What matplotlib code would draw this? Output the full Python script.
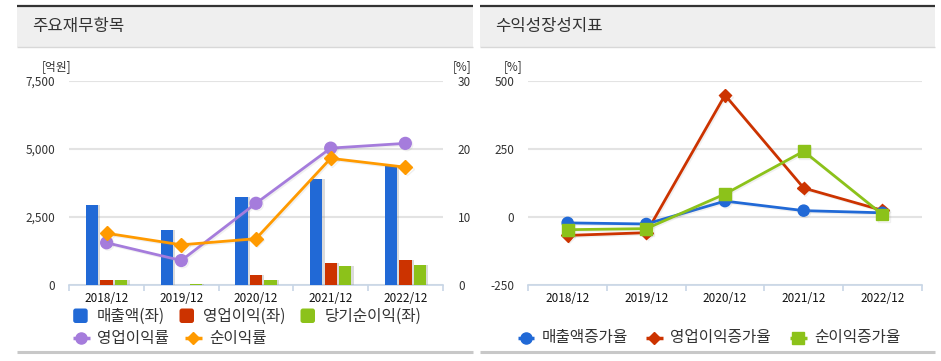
import matplotlib
matplotlib.use("Agg")
import matplotlib.pyplot as plt
import matplotlib.patheffects as pe
from matplotlib.patches import Rectangle, FancyBboxPatch
import numpy as np

plt.rcParams['font.family'] = ['Noto Sans CJK KR', 'DejaVu Sans']
plt.rcParams['axes.unicode_minus'] = False

# ---------------- data ----------------
years = ['2018/12', '2019/12', '2020/12', '2021/12', '2022/12']
sales = [2930, 2030, 3240, 3880, 4370]          # 매출액 (억원)
op_income = [185, 12, 380, 790, 920]            # 영업이익
net_income = [185, 45, 185, 680, 725]           # 당기순이익
op_margin = [6.2, 3.6, 12.0, 20.1, 20.8]        # 영업이익률 (%)
net_margin = [7.6, 5.9, 6.8, 18.6, 17.3]        # 순이익률 (%)

sales_growth = [-22, -26, 58, 23, 15]           # 매출액증가율 (%)
op_growth = [-68, -58, 447, 106, 24]            # 영업이익증가율
net_growth = [-47, -43, 84, 241, 9]             # 순이익증가율

left_title = '주요재무항목'
right_title = '수익성장성지표'
left_yticks = [0, 2500, 5000, 7500]
left_y2ticks = [0, 10, 20, 30]
right_yticks = [-250, 0, 250, 500]

# ---------------- colors ----------------
C_BLUE = '#2169d6'
C_RED = '#cc3300'
C_GREEN = '#8cc21a'
C_PURPLE = '#a57cdc'
C_ORANGE = '#ff9a00'
C_GRID = '#e3e3e3'
C_AXIS = '#c8d6e6'
C_TXT = '#333333'

W, H = 941, 361
fig = plt.figure(figsize=(W / 100, H / 100), dpi=100)


def rect(x0, y0, x1, y1):
    return [x0 / W, 1 - y1 / H, (x1 - x0) / W, (y1 - y0) / H]


# overlay in pixel coordinates for panel decorations
ov = fig.add_axes([0, 0, 1, 1], zorder=-1)
ov.set_xlim(0, W)
ov.set_ylim(H, 0)
ov.axis('off')

for (px0, px1, title, tx) in [(17, 473, left_title, 32), (480, 935, right_title, 495)]:
    ov.add_patch(Rectangle((px0, 7), px1 - px0, 40, facecolor='#efefef', edgecolor='none'))
    ov.plot([px0, px1], [6, 6], color='#333333', lw=1.6, solid_capstyle='butt')
    ov.plot([px0, px1], [47, 47], color='#d8d8d8', lw=1, solid_capstyle='butt')
    ov.plot([px0, px1], [352, 352], color='#c8c8c8', lw=2.2, solid_capstyle='butt')
    ov.text(tx, 27, title, fontsize=12, color=C_TXT, va='center', ha='left')

TFS = 8.5


def style_axis(ax):
    for s in ['top', 'right', 'left']:
        ax.spines[s].set_visible(False)
    ax.spines['bottom'].set_color(C_AXIS)
    ax.spines['bottom'].set_linewidth(1.2)
    ax.tick_params(axis='y', length=0, labelsize=TFS, labelcolor=C_TXT)
    ax.grid(axis='y', color=C_GRID, lw=1.5)
    ax.set_axisbelow(True)
    n = len(years)
    ax.set_xlim(-0.5, n - 0.5)
    ax.set_xticks(np.arange(n))
    ax.set_xticklabels(years, fontsize=TFS, color='#111111')
    ax.tick_params(axis='x', which='major', length=0, pad=5)
    ax.set_xticks(np.arange(-0.5, n, 1.0), minor=True)
    ax.tick_params(axis='x', which='minor', length=4, color=C_AXIS, width=1.2)
    ax.patch.set_alpha(0)


# ---------------- left chart ----------------
axL = fig.add_axes(rect(69.3, 80.7, 442.7, 285))
style_axis(axL)
x = np.arange(len(years))
bw = 0.165
shadow = [pe.SimplePatchShadow(offset=(1.6, 0), shadow_rgbFace='#999999', alpha=0.35), pe.Normal()]
for off, vals, col in [(-0.195, sales, C_BLUE), (0.0, op_income, C_RED), (0.195, net_income, C_GREEN)]:
    bars = axL.bar(x + off, vals, width=bw, color=col, zorder=3)
    for b in bars:
        b.set_path_effects(shadow)
axL.set_ylim(0, 7500)
axL.set_yticks(left_yticks)
axL.set_yticklabels([f'{v:,}' for v in left_yticks])
axL.tick_params(axis='y', pad=10)

axL2 = axL.twinx()
axL2.set_ylim(0, 30)
axL2.set_yticks(left_y2ticks)
axL2.tick_params(axis='y', length=0, labelsize=TFS, labelcolor=C_TXT, pad=11)
for s in ['top', 'right', 'left', 'bottom']:
    axL2.spines[s].set_visible(False)
lshadow = [pe.SimpleLineShadow(offset=(1, -1), shadow_color='#888888', alpha=0.12), pe.Normal()]
axL2.plot(x, op_margin, color=C_PURPLE, lw=2, marker='o', ms=8.5, zorder=5, path_effects=lshadow)
axL2.plot(x, net_margin, color=C_ORANGE, lw=2, marker='D', ms=7, zorder=6, path_effects=lshadow)

fig.text(57 / W, 1 - 67 / H, '[억원]', fontsize=TFS, color=C_TXT, ha='center', va='center')
fig.text(453 / W, 1 - 67 / H, '[%]', fontsize=TFS, color=C_TXT, ha='left', va='center')

# ---------------- right chart ----------------
axR = fig.add_axes(rect(528.3, 80.7, 921.7, 285))
style_axis(axR)
axR.set_ylim(-250, 500)
axR.set_yticks(right_yticks)
axR.tick_params(axis='y', pad=10)
axR.plot(x, sales_growth, color=C_BLUE, lw=2, marker='o', ms=8, zorder=5, path_effects=lshadow)
axR.plot(x, op_growth, color=C_RED, lw=2, marker='D', ms=6.5, zorder=4, path_effects=lshadow)
axR.plot(x, net_growth, color=C_GREEN, lw=2, marker='s', ms=8.5, zorder=6, path_effects=lshadow)
fig.text(513 / W, 1 - 67 / H, '[%]', fontsize=TFS, color=C_TXT, ha='center', va='center')

# ---------------- legends (overlay, pixel coords) ----------------
lfs = 11.3
leg = fig.add_axes([0, 0, 1, 1], zorder=10)
leg.set_xlim(0, W)
leg.set_ylim(H, 0)
leg.axis('off')

for (sx, tx, lab, col) in [(72.7, 96.7, '매출액(좌)', C_BLUE), (179, 203, '영업이익(좌)', C_RED),
                           (300, 325, '당기순이익(좌)', C_GREEN)]:
    leg.add_patch(FancyBboxPatch((sx + 1.5, 309.5), 12.5, 12.5, boxstyle='round,pad=1,rounding_size=2.5',
                                 facecolor=col, edgecolor='none'))
    leg.text(tx, 316, lab, fontsize=lfs, color=C_TXT, va='center', ha='left')

for (x0, x1, tx, lab, col, mk, ms, y) in [
        (72.7, 90, 96.7, '영업이익률', C_PURPLE, 'o', 8, 338),
        (185, 201.7, 209, '순이익률', C_ORANGE, 'D', 6.5, 338),
        (518.3, 534, 541.7, '매출액증가율', C_BLUE, 'o', 8, 337.7),
        (646, 662.7, 670, '영업이익증가율', C_RED, 'D', 6.5, 337.7),
        (790, 806.7, 814.3, '순이익증가율', C_GREEN, 's', 8, 337.7)]:
    leg.plot([x0, x1], [y, y], color=col, lw=2.5, solid_capstyle='butt')
    leg.plot([(x0 + x1) / 2], [y], marker=mk, ms=ms, color=col, mec=col)
    leg.text(tx, y, lab, fontsize=lfs, color=C_TXT, va='center', ha='left')

fig.savefig('out.png', dpi=100)
